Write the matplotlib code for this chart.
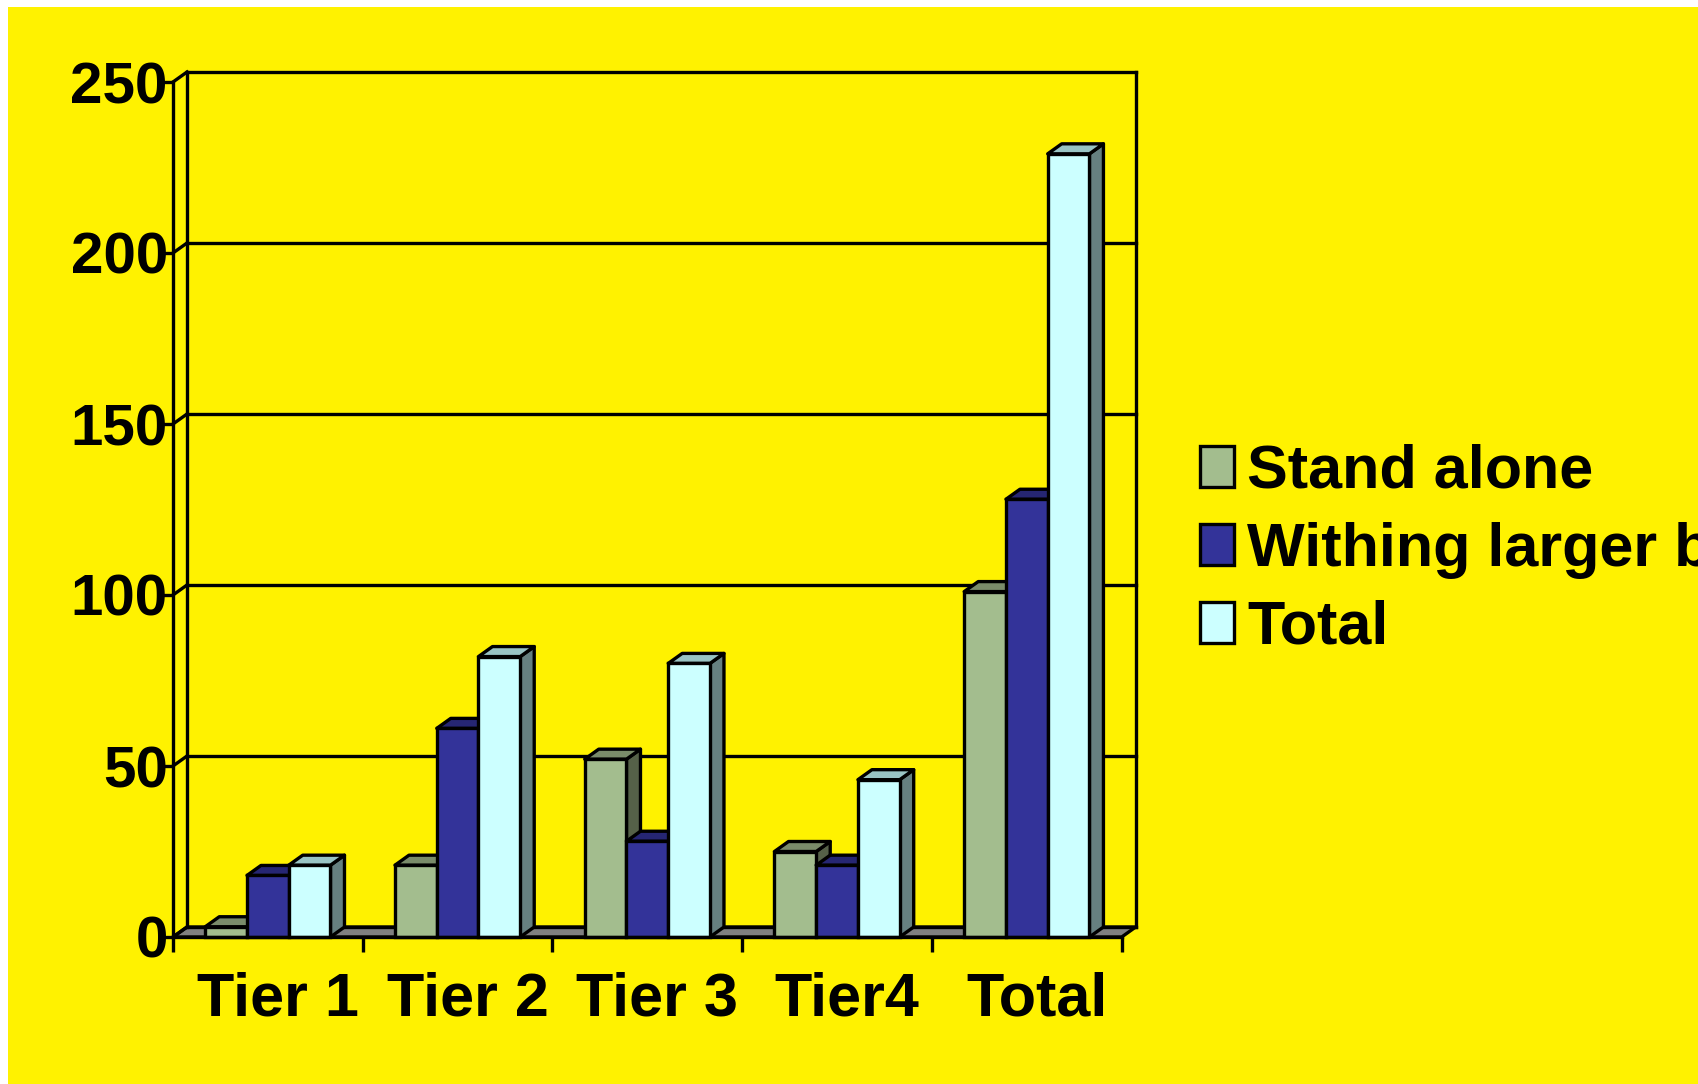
import numpy as np
import matplotlib.pyplot as plt
from matplotlib.patches import Polygon, Rectangle

# ── data ──
categories = ['Tier 1', 'Tier 2', 'Tier 3', 'Tier4', 'Total']
series_names = ['Stand alone', 'Withing larger business', 'Total']
stand_alone = [3, 21, 52, 25, 101]
withing_larger = [18, 61, 28, 21, 128]
total = [21, 82, 80, 46, 229]
y_ticks = [0, 50, 100, 150, 200, 250]

# ── style ──
YELLOW = '#FFF200'
front_cols = ['#A3BD8E', '#333399', '#CCFFFF']
top_cols = ['#7A8C6A', '#262673', '#99C4C4']
side_cols = ['#556148', '#1F1F5C', '#668080']
FLOOR = '#808080'
LW = 2.4
font = dict(family='Liberation Sans', weight='bold')

W, H = 1698, 1084
fig = plt.figure(figsize=(W / 100, H / 100), dpi=100, facecolor='white')
fig.add_artist(Rectangle((8 / W, 0), 1, (H - 7) / H, transform=fig.transFigure,
                         facecolor=YELLOW, edgecolor='none', zorder=-10))

ax = fig.add_axes([173 / W, 147 / H, 948.7 / W, 855 / H])
ax.set_facecolor('none')
x0, x1 = -0.5, len(categories) - 0.5
ax.set_xlim(x0, x1)
ax.set_ylim(0, 250)

# oblique depth offset (data units)
dx = 14 / (948.7 / 5)
dy = 10 / (855 / 250)

# floor
ax.add_patch(Polygon([(x0, 0), (x0 + dx, dy), (x1 + dx, dy), (x1, 0)], closed=True,
                     facecolor=FLOOR, edgecolor='black', lw=LW, joinstyle='round',
                     clip_on=False, zorder=1))
# back wall gridlines + side wall slants
for v in y_ticks:
    ax.plot([x0 + dx, x1 + dx], [v + dy, v + dy], color='black', lw=LW,
            clip_on=False, zorder=2, solid_capstyle='projecting')
    ax.plot([x0, x0 + dx], [v, v + dy], color='black', lw=LW, clip_on=False, zorder=2)
for xe in (x0 + dx, x1 + dx):
    ax.plot([xe, xe], [dy, 250 + dy], color='black', lw=LW, clip_on=False, zorder=2)

# 3D-looking clustered columns
bw = 0.22
series = [stand_alone, withing_larger, total]
x = np.arange(len(categories))
z = 3
for i in range(len(categories)):
    for k, vals in enumerate(series):
        h = vals[i]
        left = x[i] + (k - 1) * bw - bw / 2
        right = left + bw
        ax.add_patch(Polygon([(right, 0), (right + dx, dy), (right + dx, h + dy), (right, h)],
                             closed=True, facecolor=side_cols[k], edgecolor='black',
                             lw=LW, joinstyle='round', clip_on=False, zorder=z))
        ax.add_patch(Polygon([(left, h), (left + dx, h + dy), (right + dx, h + dy), (right, h)],
                             closed=True, facecolor=top_cols[k], edgecolor='black',
                             lw=LW, joinstyle='round', clip_on=False, zorder=z + 1))
        ax.bar(x[i] + (k - 1) * bw, h, width=bw, color=front_cols[k], edgecolor='black',
               linewidth=LW, zorder=z + 2, clip_on=False)
        z += 3

# axes
for s in ('top', 'right'):
    ax.spines[s].set_visible(False)
for s in ('left', 'bottom'):
    ax.spines[s].set_linewidth(LW)
    ax.spines[s].set_zorder(100)

ax.set_yticks(y_ticks)
ax.set_yticklabels([str(v) for v in y_ticks], fontsize=42, **font)
ax.tick_params(axis='y', direction='out', length=8, width=LW, pad=-4.3)

ax.set_xticks(np.arange(len(categories) + 1) - 0.5)
ax.set_xticklabels([])
ax.set_xticks(x + 0.053, minor=True)
ax.set_xticklabels(categories, minor=True, fontsize=44, **font)
ax.tick_params(axis='x', which='major', direction='out', length=10.8, width=LW)
ax.tick_params(axis='x', which='minor', length=0, pad=25)

# legend
handles = [Rectangle((0, 0), 1, 1, facecolor=c, edgecolor='black', lw=LW) for c in front_cols]
fig.legend(handles, series_names, loc='upper left', bbox_to_anchor=(1200 / W, 1 - 444 / H),
           frameon=False, prop=dict(family='Liberation Sans', weight='bold', size=44),
           handlelength=0.55, handleheight=0.66, handletextpad=0.22, labelspacing=0.34,
           borderpad=0, borderaxespad=0)

plt.savefig('out.png', dpi=100, facecolor=fig.get_facecolor())
plt.close()
